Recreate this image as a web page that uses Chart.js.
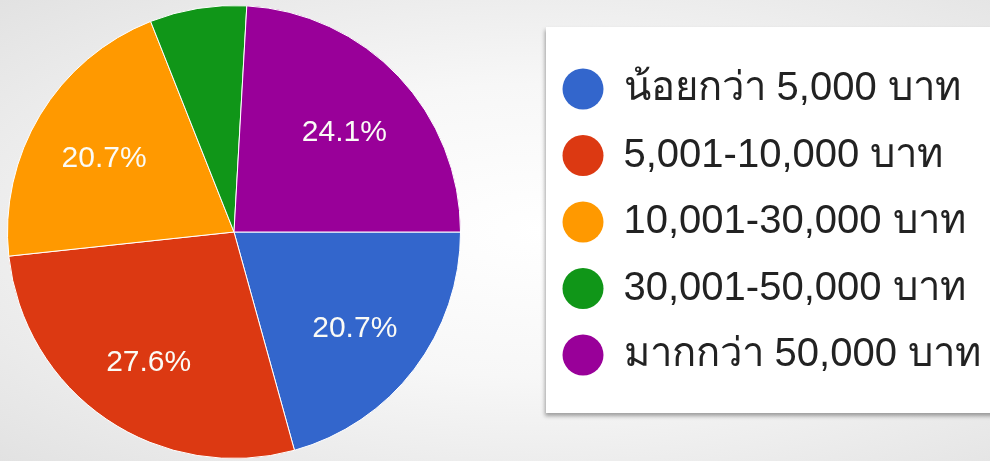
<!DOCTYPE html>
<html>
<head>
<meta charset="utf-8">
<script src="https://cdn.jsdelivr.net/npm/chart.js@4/dist/chart.umd.min.js"></script>
<style>
  html, body { margin: 0; padding: 0; }
  body {
    width: 990px; height: 461px; overflow: hidden; position: relative;
    background: radial-gradient(ellipse at 55% 50%, #ffffff 0%, #f7f7f7 45%, #e2e2e2 100%);
  }
  #legendBox {
    position: absolute; left: 546px; top: 27px; width: 460px; height: 386px;
    background: #fff; box-shadow: -1px 3px 4px rgba(0,0,0,0.35);
  }
  /* canvas เลื่อนไปทางซ้าย 68px เพื่อให้วงกลมอยู่ตรงตำแหน่งเดิม */
  #wrap { position: absolute; left: -68px; top: 0; width: 1200px; height: 461px; }
</style>
</head>
<body>
<div id="legendBox"></div>
<div id="wrap"><canvas id="pieChart"></canvas></div>
<script>
// ข้อมูลรายได้ต่อเดือน (เปอร์เซ็นต์)
const categories = ['น้อยกว่า 5,000 บาท', '5,001-10,000 บาท', '10,001-30,000 บาท', '30,001-50,000 บาท', 'มากกว่า 50,000 บาท'];
const percents = [20.7, 27.6, 20.7, 6.9, 24.1];
const colors = ['#3366cc', '#dc3912', '#ff9900', '#109618', '#990099'];

const FONT = "'Liberation Sans', Arial, 'Noto Sans', 'DejaVu Sans', sans-serif";
const LEG_FONT = 40;
const LEG_PAD = 26.5;
const POINT_W = 41;
const CANVAS_W = 1200;
const LEGEND_LEFT = 604;   // ขอบซ้ายของ legend ในพิกัด canvas

// ป้ายเปอร์เซ็นต์ในแต่ละชิ้น
const sliceLabels = {
    id: 'sliceLabels',
    afterDatasetsDraw(chart) {
        const ctx = chart.ctx;
        const meta = chart.getDatasetMeta(0);
        ctx.save();
        ctx.font = '30px ' + FONT;
        ctx.fillStyle = '#fbfbf6';
        ctx.textAlign = 'center';
        ctx.textBaseline = 'middle';
        meta.data.forEach(function(arc, i) {
            const v = chart.data.datasets[0].data[i];
            if (v < 10) return;
            const p = arc.getProps(['x', 'y', 'startAngle', 'endAngle', 'outerRadius'], true);
            const mid = (p.startAngle + p.endAngle) / 2;
            const r = p.outerRadius * 0.67;
            ctx.fillText(v.toFixed(1) + '%', p.x + Math.cos(mid) * r, p.y + Math.sin(mid) * r + 5);
        });
        ctx.restore();
    }
};

document.addEventListener('DOMContentLoaded', function() {
    // วัดความกว้างข้อความ legend เพื่อกำหนด padding ด้านขวา
    const mctx = document.createElement('canvas').getContext('2d');
    mctx.font = 'normal ' + LEG_FONT + 'px ' + FONT;
    let maxText = 0;
    categories.forEach(function(c) { maxText = Math.max(maxText, mctx.measureText(c).width); });
    const legendW = LEG_PAD + POINT_W + LEG_FONT / 2 + maxText + 10;
    const padRight = Math.max(0, CANVAS_W - LEGEND_LEFT - legendW);

    const ctx = document.getElementById('pieChart').getContext('2d');
    new Chart(ctx, {
        type: 'pie',
        data: {
            labels: categories,
            datasets: [{
                data: percents,
                backgroundColor: colors,
                borderColor: '#ffffff',
                borderWidth: 1
            }]
        },
        options: {
            responsive: true,
            maintainAspectRatio: false,
            animation: false,
            rotation: 90,
            layout: { padding: { left: 0, top: 5, bottom: 2, right: padRight } },
            plugins: {
                tooltip: { enabled: false },
                legend: {
                    position: 'right',
                    align: 'start',
                    title: {
                        display: true,
                        text: ' ',
                        color: 'rgba(0,0,0,0)',
                        font: { size: 10, family: FONT },
                        padding: { top: 25.5, bottom: 0 }
                    },
                    labels: {
                        usePointStyle: true,
                        pointStyle: 'circle',
                        boxHeight: 29,
                        pointStyleWidth: POINT_W,
                        padding: LEG_PAD,
                        color: '#222222',
                        font: { size: LEG_FONT, family: FONT },
                        generateLabels: function(chart) {
                            const items = Chart.controllers.pie.overrides.plugins.legend.labels.generateLabels(chart);
                            items.forEach(function(it) { it.lineWidth = 0; it.strokeStyle = it.fillStyle; });
                            return items;
                        }
                    }
                }
            }
        },
        plugins: [sliceLabels]
    });
});
</script>
</body>
</html>
